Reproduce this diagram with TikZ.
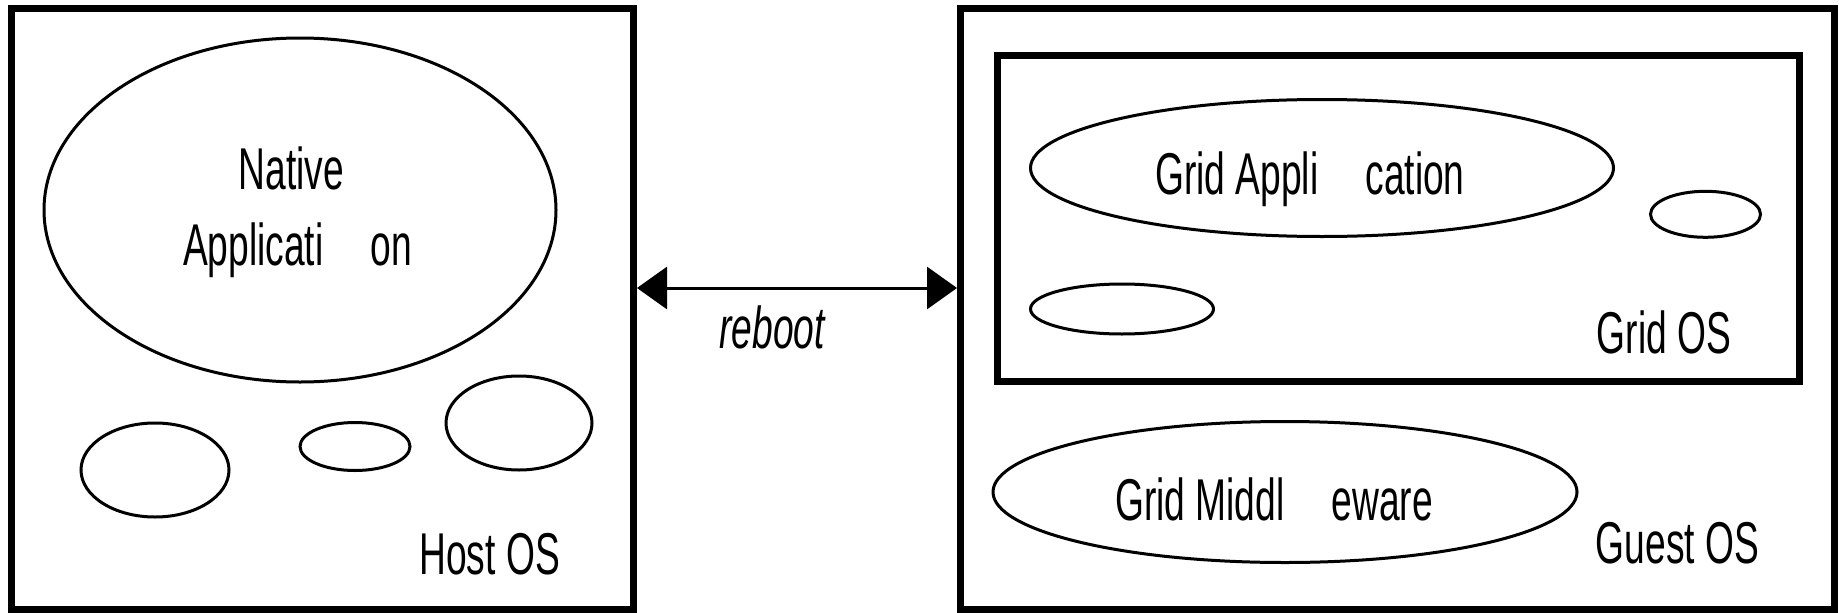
\documentclass[tikz,border=0pt]{standalone}
\usepackage{fontspec}
\setmainfont{Liberation Sans}[FakeStretch=0.63]
\usetikzlibrary{shapes.geometric,arrows.meta}

\tikzset{
  osbox/.style={draw, line width=7pt, rectangle, inner sep=0pt},
  blob/.style={draw, line width=3pt, ellipse, inner sep=0pt},
  lbl/.style={anchor=base, inner sep=0pt, font=\fontsize{59}{76}\selectfont},
  link/.style={line width=3pt, {Triangle[length=30pt,width=42pt]}-{Triangle[length=30pt,width=42pt]}}
}

\begin{document}
\begin{tikzpicture}[x=1pt, y=-1pt]
\useasboundingbox (0,0) rectangle (1839,613);

% host machine
\node[osbox, minimum width=622pt, minimum height=601.5pt] (host) at (322.5,308.75) {};
\node[blob, minimum width=512pt, minimum height=344pt] (native) at (300,210) {};
\node[lbl] (nativea) at (291.5,189) {Native};
\node[lbl] (nativeb) at (297.5,265) {Applicati\hspace{47pt}on};
\node[blob, minimum width=148pt, minimum height=94pt] (h1) at (155,470) {};
\node[blob, minimum width=110pt, minimum height=48pt] (h2) at (355,446.5) {};
\node[blob, minimum width=146pt, minimum height=94pt] (h3) at (519,423) {};
\node[lbl] (hostos) at (489.7,574) {Host OS};

% guest machine
\node[osbox, minimum width=873.5pt, minimum height=601.5pt] (guest) at (1397.25,308.75) {};
\node[osbox, minimum width=802.5pt, minimum height=325.5pt] (gridos) at (1398.25,218.25) {};
\node[blob, minimum width=583pt, minimum height=137pt] (gridapp) at (1322,168) {};
\node[lbl] (gridapplbl) at (1310,194.5) {Grid Appli\hspace{47pt}cation};
\node[blob, minimum width=110pt, minimum height=46pt] (g1) at (1705.5,214.3) {};
\node[blob, minimum width=183pt, minimum height=50pt] (g2) at (1122,309) {};
\node[lbl] (gridoslbl) at (1664,353) {Grid OS};
\node[blob, minimum width=584pt, minimum height=141pt] (mw) at (1285,492) {};
\node[lbl] (mwlbl) at (1274,520) {Grid Middl\hspace{47pt}eware};
\node[lbl] (guestlbl) at (1677.5,563) {Guest OS};

% reboot link between the two machines
\coordinate (row) at (0,288);
\draw[link] (host.east |- row) -- (guest.west |- row);
\node[lbl, font=\fontsize{59}{76}\selectfont\itshape] (reboot) at (772,348) {reboot};
\end{tikzpicture}
\end{document}
